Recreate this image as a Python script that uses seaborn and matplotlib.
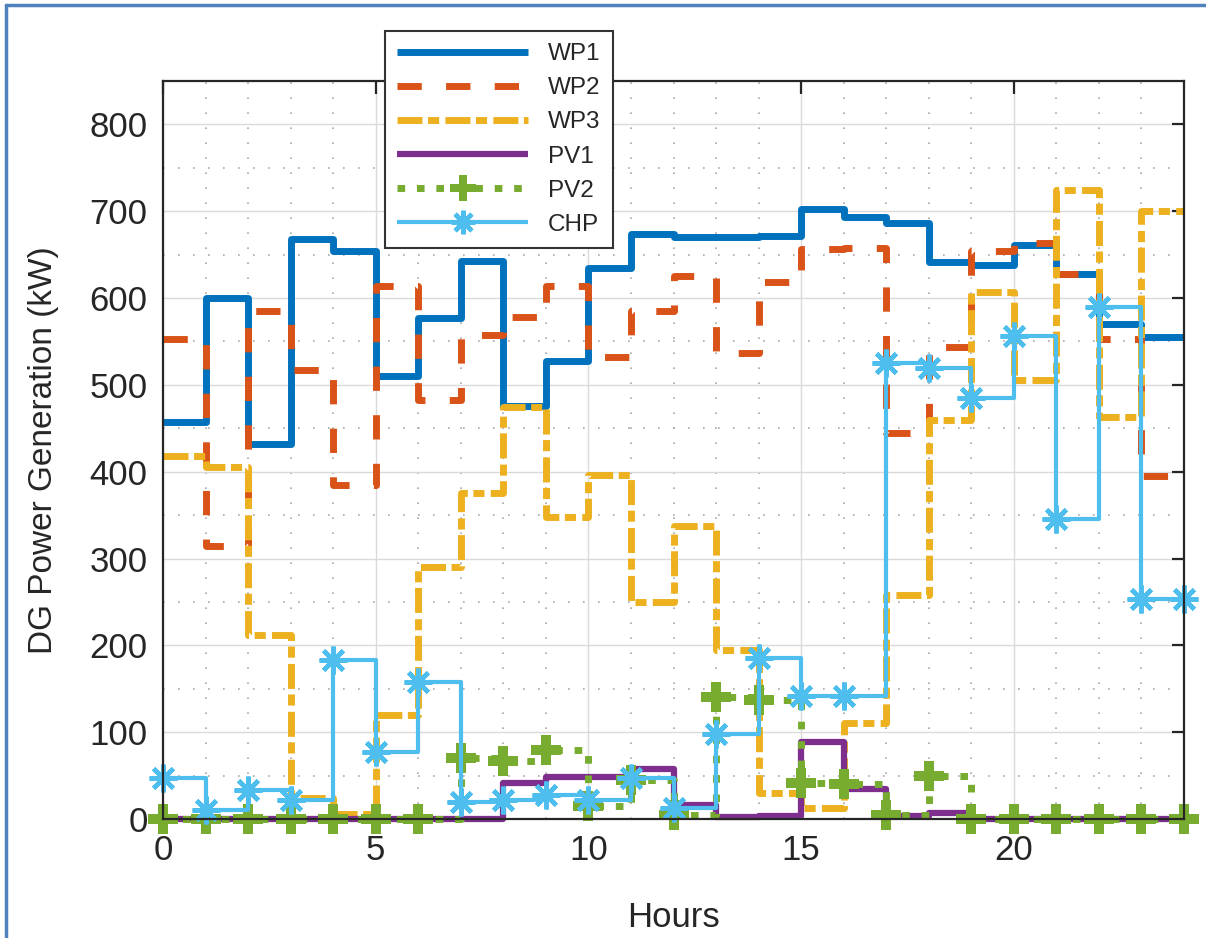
import numpy as np
import pandas as pd
import matplotlib
matplotlib.use("Agg")
import matplotlib.pyplot as plt
from matplotlib.lines import Line2D
from matplotlib.ticker import MultipleLocator
import seaborn as sns

hours = list(range(25))
wp1 = [457, 600, 432, 668, 654, 510, 577, 643, 476, 528, 635, 674, 670, 670, 671,
       702, 693, 686, 641, 638, 661, 628, 570, 555, 555]
wp2 = [553, 315, 585, 517, 385, 614, 483, 558, 578, 614, 532, 585, 625, 537, 618,
       657, 658, 445, 544, 654, 663, 628, 553, 395, 395]
wp3 = [418, 405, 212, 24, 6, 120, 290, 375, 474, 348, 396, 250, 338, 195, 30,
       13, 110, 258, 459, 607, 506, 725, 463, 700, 700]
pv1 = [0, 0, 0, 0, 0, 0, 0, 0, 42, 48, 48, 58, 16, 2, 3,
       89, 35, 3, 7, 0, 0, 0, 0, 0, 0]
pv2 = [0, 0, 0, 0, 0, 0, 0, 70, 67, 80, 15, 45, 5, 140, 137,
       42, 40, 5, 50, 0, 0, 0, 0, 0, 0]
chp = [47, 10, 33, 22, 183, 77, 158, 20, 22, 28, 22, 47, 13, 98, 185,
       142, 142, 525, 520, 485, 556, 345, 590, 253, 253]
labels = ["WP1", "WP2", "WP3", "PV1", "PV2", "CHP"]
colors = ["#0072BD", "#D95319", "#EDB120", "#7E2F8E", "#77AC30", "#4DBEEE"]
x_ticks = [0, 5, 10, 15, 20]
y_ticks = [0, 100, 200, 300, 400, 500, 600, 700, 800]

sns.set_theme(style="white")
plt.rcParams["font.family"] = ["Liberation Sans", "DejaVu Sans"]

fig = plt.figure(figsize=(12.06, 9.38), dpi=100)
ax = fig.add_axes([163/1206, 1-819/938, (1184-163)/1206, (819-81)/938])

asterisk = (8, 2, 0)
styles = [
    dict(lw=5.0, linestyle="-"),
    dict(lw=5.0, linestyle=(0, (3.5, 3.5))),
    dict(lw=5.0, linestyle=(0, (3.6, 0.8, 1.6, 0.9))),
    dict(lw=4.5, linestyle="-"),
    dict(lw=5.0, linestyle=(0, (1.1, 1.7)), marker="P", markersize=22,
         markeredgewidth=0),
    dict(lw=3.0, linestyle="-", marker=asterisk, markersize=20, markeredgewidth=3.2),
]
series = [wp1, wp2, wp3, pv1, pv2, chp]
for vals, lab, col, st in zip(series, labels, colors, styles):
    df = pd.DataFrame({"Hours": hours, "val": vals})
    sns.lineplot(data=df, x="Hours", y="val", ax=ax, color=col, label=lab,
                 drawstyle="steps-post", legend=False, solid_capstyle="butt",
                 dash_capstyle="butt", clip_on=False, markeredgecolor=col,
                 markerfacecolor=col, **st)

ax.set_xlim(0, 24)
ax.set_ylim(0, 850)
ax.set_xticks(x_ticks)
ax.set_yticks(y_ticks)
ax.xaxis.set_minor_locator(MultipleLocator(1))
ax.yaxis.set_minor_locator(MultipleLocator(50))
ax.grid(which="major", color="#DADADA", lw=1.0, ls="-")
ax.grid(which="minor", color="#A8A8A8", lw=1.2, ls=(0, (1, 8)))
ax.set_axisbelow(True)
for s in ax.spines.values():
    s.set_visible(True)
    s.set_color("#262626")
    s.set_linewidth(1.6)
ax.tick_params(which="major", direction="in", length=9, width=1.6, color="#262626",
               labelsize=25, labelcolor="#262626", top=True, right=True, pad=11)
ax.tick_params(which="minor", length=0)
ax.set_xlabel("Hours", fontsize=25, color="#262626", labelpad=24)
ax.set_ylabel("DG Power Generation (kW)", fontsize=24, color="#262626", labelpad=22)

handles = ax.get_lines()[:6]
leg = fig.legend(handles=handles, labels=labels, loc="upper left",
                 bbox_to_anchor=(385/1206, 1-31/938), fontsize=17.5,
                 handlelength=5.4, labelspacing=0.5, borderpad=0.5,
                 handletextpad=0.8, fancybox=False, framealpha=1,
                 edgecolor="#333333", borderaxespad=0, markerscale=0.85)
leg.get_frame().set_linewidth(1.5)
for t in leg.get_texts():
    t.set_color("#262626")

fig.add_artist(Line2D([6/1206, 6/1206], [0, 1-5/938], color="#4F81BD", lw=2.5,
                      transform=fig.transFigure))
fig.add_artist(Line2D([6/1206, 1], [1-5/938, 1-5/938], color="#4F81BD", lw=2.5,
                      transform=fig.transFigure))

fig.savefig("out.png", dpi=100, facecolor="white")
